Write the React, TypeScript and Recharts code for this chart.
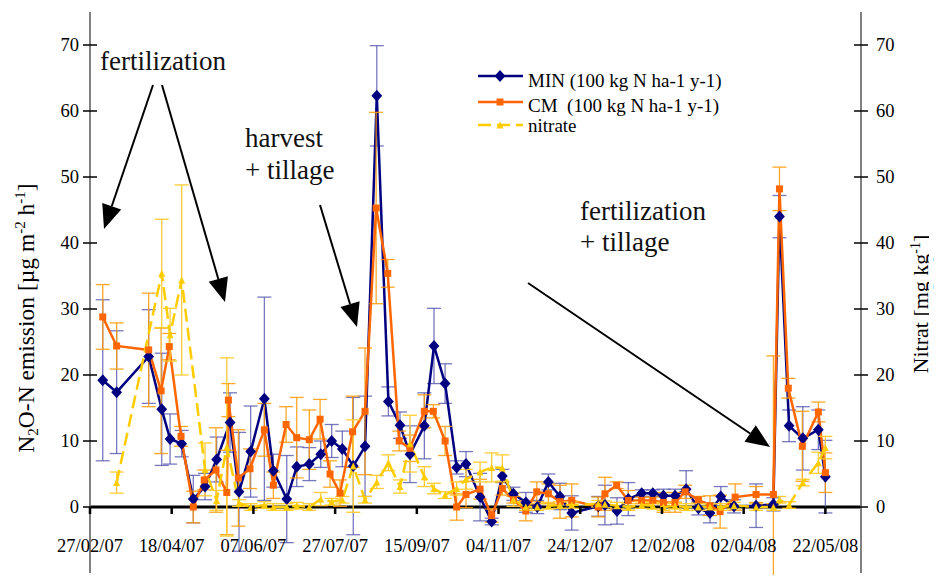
import React from "react";
import { ErrorBar, Line, LineChart, ReferenceLine, XAxis, YAxis } from "recharts";

// sampling days, counted from 27/02/07
const minDays = [
  7.8, 16.3, 35.9, 43.9, 49.0, 56.1, 63.2, 70.4, 77.5, 85.7, 91.2, 98.3, 106.7, 112.2, 120.4,
  126.5, 134.2, 141.2, 147.9, 154.4, 161.1, 168.3, 175.5, 182.6, 189.7, 195.8, 204.6, 210.5,
  217.3, 224.4, 230.1, 238.7, 245.8, 252.3, 259.1, 266.7, 273.7, 280.5, 287.6, 294.8, 311.0,
  315.1, 322.5, 329.4, 337.6, 344.4, 350.9, 358.0, 364.8, 372.3, 379.4, 386.0, 394.1, 407.6,
  418.2, 421.9, 427.8, 436.2, 445.7, 450.0,
];
const minValues = [
  19.2, 17.4, 22.8, 14.8, 10.3, 9.6, 1.2, 3.1, 7.2, 12.8, 2.3, 8.4, 16.4, 5.5, 1.2, 6.1, 6.5,
  8.0, 10.0, 8.8, 6.2, 9.2, 62.3, 16.0, 12.4, 8.0, 12.3, 24.4, 18.7, 6.0, 6.5, 1.5, -2.2, 4.7,
  2.0, 0.7, 0, 3.8, 1.6, -0.9, 0.1, 0.3, -0.6, 1.2, 2.1, 2.1, 1.7, 1.7, 2.7, -0.2, -0.9, 1.6,
  0.1, 0.2, 0.4, 44.0, 12.3, 10.4, 11.7, 4.6,
];
const minErrors = [
  12.2, 9.3, 7.1, 8.5, 3.8, 2, 3.6, 2, 3.4, 4.5, 9, 6.9, 15.4, 2.5, 6.6, 3, 2.5, 2, 2.5, 2.7,
  10.4, 7.6, 7.6, 2.2, 2, 4.3, 5, 5.7, 3, 1, 1.9, 3.6, 0.5, 1, 1, 1.5, 1, 1.2, 2, 2.6, 1.5, 3,
  2, 2.5, 0.5, 0.5, 1, 1, 2.8, 1, 1.5, 1.5, 1, 3.3, 1, 3.2, 2.4, 4.8, 3, 5.5,
];

const cmDays = [
  7.8, 16.3, 35.9, 43.5, 48.5, 55.7, 63.2, 69.9, 77.1, 83.7, 84.7, 90.8, 97.9, 106.7, 112.2,
  120.0, 126.5, 134.2, 140.8, 146.9, 153.0, 160.7, 168.3, 175.1, 182.2, 189.2, 195.8, 204.6,
  210.1, 217.3, 224.4, 230.1, 238.7, 245.8, 252.3, 259.1, 266.7, 273.4, 280.5, 287.6, 294.8,
  311.0, 315.1, 322.3, 329.4, 337.6, 344.4, 350.9, 358.0, 364.2, 372.3, 379.4, 385.6, 394.8,
  407.6, 418.2, 421.9, 427.3, 435.9, 445.7, 450.0,
];
const cmValues = [
  28.8, 24.4, 23.8, 17.6, 24.3, 10.7, 0, 4.1, 5.6, 2.2, 16.2, 4.4, 5.8, 11.7, 3.3, 12.5, 10.5,
  10.2, 13.3, 5.0, 2.1, 11.4, 14.5, 45.3, 35.4, 10.0, 8.9, 14.5, 14.5, 10.0, 0, 1.9, 2.7, -1.3,
  2.8, 1.1, -0.6, 2.3, 2.0, 0.8, 1.0, 0, 2.0, 3.3, 1.0, 1.0, 1.0, 0.7, 0.7, 2.3, 1.1, 0.2,
  -0.7, 1.5, 1.9, 1.9, 48.2, 18.0, 9.2, 14.4, 5.2,
];
const cmErrors = [
  4.9, 3.5, 8.6, 9.5, 2, 1.5, 2.4, 1.5, 6.4, 6.4, 2.5, 7.3, 3, 4, 2, 2.7, 6.1, 4.5, 3, 2, 2,
  5.4, 9.6, 14.5, 2.1, 1.5, 2, 2.5, 1, 2.2, 2, 2, 1.5, 1, 1, 0.5, 1.5, 1.5, 1.5, 2.5, 2.5, 1.5,
  2.5, 0.5, 1.5, 0.5, 0.5, 1.5, 1.5, 1, 0.5, 1.5, 2.5, 2, 1.2, 21, 3.3, 1.5, 5.3, 1.5, 3,
];

const nitrateDays = [
  16.3, 43.9, 49.0, 56.1, 70.4, 77.5, 83.7, 91.2, 98.3, 106.7, 112.2, 120.4, 126.5, 134.2,
  141.2, 147.9, 154.4, 161.1, 168.3, 175.5, 182.6, 189.7, 195.8, 204.6, 210.5, 217.3, 224.4,
  230.1, 238.7, 245.8, 252.3, 259.1, 266.7, 273.7, 280.5, 287.6, 294.8, 311.0, 315.1, 322.5,
  329.4, 337.6, 344.4, 350.9, 358.0, 364.8, 372.3, 379.4, 386.0, 394.1, 407.6, 418.2, 421.9,
  427.8, 436.2, 445.7, 450.0,
];
const nitrateValues = [
  3.7, 35.4, 26.1, 34.4, 5.7, 1.0, 9.1, 0.6, 0, 0.3, 0, 0, 0.2, 0, 1.2, 0.8, 1.1, 6.2, 1.1,
  3.8, 6.7, 3.1, 9.6, 4.6, 2.8, 1.8, 2.8, 4.2, 5.3, 6.0, 5.9, 1.1, 0, 0, 0.2, 0.3, 0.3, 0.5,
  0.4, 0.2, 0, 0.3, 0.2, 0, 0.2, 0, 0, 0, 0, 0.2, 0, 0, 1.1, 0.3, 3.7, 6.7, 9.0,
];
const nitrateErrors = [
  1.6, 8.2, 4, 14.4, 4, 1.5, 13.5, 0.5, 0.5, 0.5, 0.5, 0.5, 0.5, 0.5, 1, 0.5, 0.5, 7, 0.5, 1,
  1.2, 1, 4.3, 1.5, 0.8, 0.5, 1, 1.5, 1.5, 2.2, 2, 1, 0.5, 0.5, 0.5, 0.5, 0.5, 0.5, 0.5, 0.5,
  0.5, 0.5, 0.5, 0.5, 0.5, 0.5, 0.5, 0.5, 0.5, 0.5, 0.5, 0.5, 0.5, 0.5, 0.5, 1.6, 1.7,
];

const dateTicks = [0, 50, 100, 150, 200, 250, 300, 350, 400, 450];
const dateLabels = [
  "27/02/07", "18/04/07", "07/06/07", "27/07/07", "15/09/07",
  "04/11/07", "24/12/07", "12/02/08", "02/04/08", "22/05/08",
];
const valueTicks = [-10, 0, 10, 20, 30, 40, 50, 60, 70];

const minData = minDays.map((day, i) => ({ day, v: minValues[i], err: minErrors[i] }));
const cmData = cmDays.map((day, i) => ({ day, v: cmValues[i], err: cmErrors[i] }));
const nitrateData = nitrateDays.map((day, i) => ({ day, v: nitrateValues[i], err: nitrateErrors[i] }));

const W = 921;
const H = 567;
const PLOT = { left: 82, right: 853, top: 4, bottom: 565 };
const Y_MIN = -10;
const Y_MAX = 75;
const X_MAX = 471.8;
const zeroY = PLOT.top + ((Y_MAX - 0) / (Y_MAX - Y_MIN)) * (PLOT.bottom - PLOT.top);

const NAVY = "#000080";
const ORANGE = "#FF6600";
const YELLOW = "#FFCC00";
const SERIF = "'Liberation Serif', 'Times New Roman', serif";
const serifStyle = { fontFamily: SERIF };

function DateTick({ x, payload }: any) {
  const i = dateTicks.indexOf(payload.value);
  return (
    <g>
      <line x1={x} x2={x} y1={zeroY} y2={zeroY + 7} stroke="#000" strokeWidth={2.5} />
      <text x={x} y={zeroY + 45} textAnchor="middle" style={serifStyle} fontSize={18.5} fill="#000">
        {dateLabels[i]}
      </text>
    </g>
  );
}

function ValueTick({ y, payload, side }: any) {
  const ax = side === "left" ? PLOT.left : PLOT.right;
  const tx = side === "left" ? ax - 11 : ax + 15;
  return (
    <g>
      <line x1={ax - 7} x2={ax + 7} y1={y} y2={y} stroke="#000" strokeWidth={1.5} />
      <text
        x={tx}
        y={y}
        dy="0.35em"
        textAnchor={side === "left" ? "end" : "start"}
        style={serifStyle}
        fontSize={18.5}
        fill="#000"
      >
        {payload.value}
      </text>
    </g>
  );
}

function Diamond({ cx, cy, size = 6 }: any) {
  if (cx == null || cy == null) return null;
  return (
    <polygon
      points={`${cx},${cy - size} ${cx + size * 0.9},${cy} ${cx},${cy + size} ${cx - size * 0.9},${cy}`}
      fill={NAVY}
    />
  );
}

function Square({ cx, cy, size = 7 }: any) {
  if (cx == null || cy == null) return null;
  return <rect x={cx - size / 2} y={cy - size / 2} width={size} height={size} fill={ORANGE} />;
}

function Triangle({ cx, cy, size = 7 }: any) {
  if (cx == null || cy == null) return null;
  return (
    <polygon
      points={`${cx},${cy - size / 2} ${cx + size / 2},${cy + size / 2} ${cx - size / 2},${cy + size / 2}`}
      fill={YELLOW}
    />
  );
}

function Arrow({ x1, y1, x2, y2 }: { x1: number; y1: number; x2: number; y2: number }) {
  const len = Math.hypot(x2 - x1, y2 - y1);
  const ux = (x2 - x1) / len;
  const uy = (y2 - y1) / len;
  const head = 24;
  const half = 10;
  const bx = x2 - ux * head;
  const by = y2 - uy * head;
  return (
    <g>
      <line x1={x1} y1={y1} x2={bx} y2={by} stroke="#000" strokeWidth={2} />
      <polygon
        points={`${x2},${y2} ${bx - uy * half},${by + ux * half} ${bx + uy * half},${by - ux * half}`}
        fill="#000"
      />
    </g>
  );
}

function Annotations() {
  const t = { style: serifStyle, fontSize: 27, fill: "#111" };
  return (
    <svg
      width={W}
      height={H}
      style={{ position: "absolute", left: 0, top: 0, overflow: "visible", pointerEvents: "none" }}
    >
      <text x={92} y={62} {...t}>fertilization</text>
      <text x={237} y={139} {...t}>harvest</text>
      <text x={237} y={171} {...t}>+ tillage</text>
      <text x={572} y={212} {...t}>fertilization</text>
      <text x={572} y={243} {...t}>+ tillage</text>

      <Arrow x1={145} y1={77} x2={96} y2={221} />
      <Arrow x1={154} y1={77} x2={217} y2={294} />
      <Arrow x1={312} y1={197} x2={349} y2={319} />
      <Arrow x1={520} y1={275} x2={762} y2={439} />

      {/* legend */}
      <g style={serifStyle} fontSize={19} fill="#000">
        <line x1={470} x2={515} y1={68} y2={68} stroke={NAVY} strokeWidth={2.5} />
        <Diamond cx={492} cy={68} />
        <text x={520} y={79}>MIN (100 kg N ha-1 y-1)</text>
        <line x1={470} x2={515} y1={94} y2={94} stroke={ORANGE} strokeWidth={2.5} />
        <Square cx={492} cy={94} />
        <text x={520} y={104}>{"CM\u00A0 (100 kg N ha-1 y-1)"}</text>
        <line x1={470} x2={515} y1={117} y2={117} stroke={YELLOW} strokeWidth={2.5} strokeDasharray="13 6" />
        <Triangle cx={492} cy={117} />
        <text x={520} y={124}>nitrate</text>
      </g>

      {/* axis titles */}
      <text
        x={26}
        y={310}
        transform="rotate(-90 26 310)"
        textAnchor="middle"
        style={serifStyle}
        fontSize={23.5}
        fill="#000"
      >
        N<tspan dy={4} fontSize={15}>2</tspan>
        <tspan dy={-4}>O-N emission [µg m</tspan>
        <tspan dy={-9} fontSize={15}>-2</tspan>
        <tspan dy={9}> h</tspan>
        <tspan dy={-9} fontSize={15}>-1</tspan>
        <tspan dy={9}>]</tspan>
      </text>
      <text
        x={920}
        y={296}
        transform="rotate(-90 920 296)"
        textAnchor="middle"
        style={serifStyle}
        fontSize={22}
        fill="#000"
      >
        Nitrat [mg kg<tspan dy={-8} fontSize={14}>-1</tspan>
        <tspan dy={8}>]</tspan>
      </text>
    </svg>
  );
}

export default function App() {
  return (
    <div style={{ position: "relative", width: W, height: H }}>
      <LineChart width={W} height={H} margin={{ top: PLOT.top, right: 0, bottom: 0, left: 0 }}>
        <XAxis
          dataKey="day"
          type="number"
          domain={[0, X_MAX]}
          ticks={dateTicks}
          interval={0}
          allowDataOverflow
          height={2}
          axisLine={false}
          tickLine={false}
          tick={<DateTick />}
        />
        <YAxis
          yAxisId="left"
          domain={[Y_MIN, Y_MAX]}
          ticks={valueTicks}
          allowDataOverflow
          width={PLOT.left}
          axisLine={{ stroke: "#808080", strokeWidth: 2 }}
          tickLine={false}
          tick={<ValueTick side="left" />}
        />
        <YAxis
          yAxisId="right"
          orientation="right"
          domain={[Y_MIN, Y_MAX]}
          ticks={valueTicks}
          allowDataOverflow
          width={W - PLOT.right}
          axisLine={{ stroke: "#808080", strokeWidth: 2 }}
          tickLine={false}
          tick={<ValueTick side="right" />}
        />
        <ReferenceLine yAxisId="left" y={0} stroke="#000" strokeWidth={3} />

        <Line
          yAxisId="left"
          data={minData}
          dataKey="v"
          type="linear"
          stroke={NAVY}
          strokeWidth={2.5}
          dot={(p: any) => <Diamond key={`m${p.index}`} cx={p.cx} cy={p.cy} />}
          activeDot={false}
          isAnimationActive={false}
        >
          <ErrorBar dataKey="err" direction="y" width={7} stroke="#4B4BA8" strokeWidth={1.3} strokeOpacity={0.75} />
        </Line>
        <Line
          yAxisId="left"
          data={cmData}
          dataKey="v"
          type="linear"
          stroke={ORANGE}
          strokeWidth={2.5}
          dot={(p: any) => <Square key={`c${p.index}`} cx={p.cx} cy={p.cy} />}
          activeDot={false}
          isAnimationActive={false}
        >
          <ErrorBar dataKey="err" direction="y" width={7} stroke="#FF9900" strokeWidth={1.3} strokeOpacity={0.85} />
        </Line>
        <Line
          yAxisId="right"
          data={nitrateData}
          dataKey="v"
          type="linear"
          stroke={YELLOW}
          strokeWidth={2.5}
          strokeDasharray="13 6"
          dot={(p: any) => <Triangle key={`n${p.index}`} cx={p.cx} cy={p.cy} />}
          activeDot={false}
          isAnimationActive={false}
        >
          <ErrorBar dataKey="err" direction="y" width={7} stroke="#FFCC33" strokeWidth={1.3} />
        </Line>
      </LineChart>
      <Annotations />
    </div>
  );
}
